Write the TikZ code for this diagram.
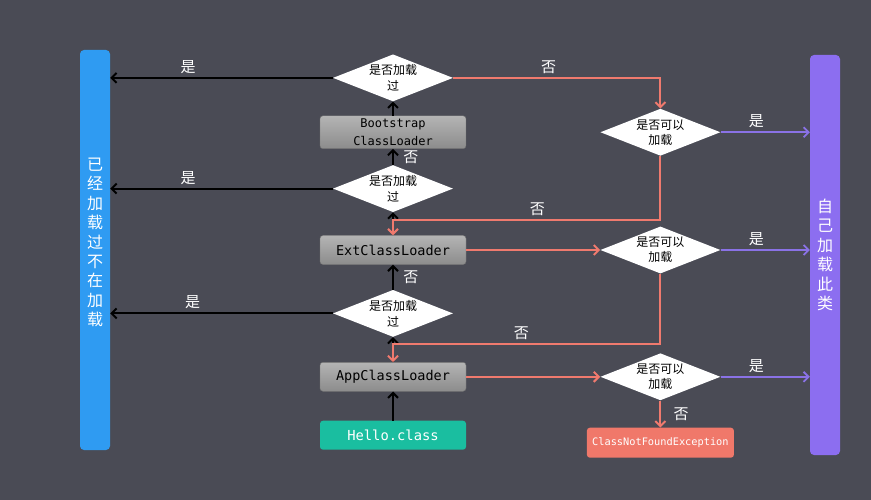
\documentclass[tikz,border=0pt]{standalone}
\usepackage{fontspec}
\setmonofont{DejaVu Sans Mono}
\newfontfamily\cjk{Noto Sans CJK SC}
\usepackage{xcolor}
\usepackage{tikz}
\usetikzlibrary{arrows.meta,positioning,shapes.geometric}

\definecolor{bgcol}{HTML}{4A4B55}
\definecolor{loadedblue}{HTML}{2F9BF2}
\definecolor{selfpurple}{HTML}{8C6EF0}
\definecolor{hellogreen}{HTML}{1ABEA0}
\definecolor{nfred}{HTML}{F0786A}
\definecolor{nored}{HTML}{F07A6E}
\definecolor{yespurple}{HTML}{8A72E6}
\definecolor{boxtop}{HTML}{B4B4B4}
\definecolor{boxbot}{HTML}{8C8C8C}

\begin{document}
\begin{tikzpicture}[x=1pt, y=-1pt,
    card/.style={rounded corners=3pt, minimum width=146pt, minimum height=29pt, inner sep=3pt, align=center, font=\ttfamily\fontsize{13.5}{18}\selectfont},
    loader/.style={card, draw=black!55, top color=boxtop, bottom color=boxbot},
    check/.style={diamond, fill=white, aspect=2.55, minimum width=120pt, minimum height=47pt, inner sep=0pt, align=center, font=\cjk\fontsize{12}{16}\selectfont},
    bar/.style={rounded corners=4pt, minimum width=30pt, minimum height=400pt, align=center, text=white, font=\cjk\fontsize{16}{19.4}\selectfont},
    note/.style={text=white, font=\cjk\fontsize{15}{15}\selectfont},
    climb/.style={draw=black, line width=2pt, -{Straight Barb[length=5pt,width=10pt]}},
    miss/.style={draw=nored, line width=2pt, -{Straight Barb[length=5pt,width=10pt]}},
    own/.style={draw=yespurple, line width=1.8pt, -{Straight Barb[length=5pt,width=10pt]}}
  ]
    \fill[bgcol] (0,0) rectangle (871,500);

    \node[bar, fill=loadedblue] (loaded) at (95,250) {已\\经\\加\\载\\过\\不\\在\\加\\载\\[-3pt]\mbox{}};
    \node[bar, fill=selfpurple] (self) at (825,255) {自\\己\\加\\载\\此\\类};

    \node[loader] (ext) at (393,250) {ExtClassLoader};
    \node[check, above=23pt of ext] (chkext) {是否加载\\过};
    \node[loader, above=16pt of chkext, font=\ttfamily\fontsize{12}{18}\selectfont] (boot) {Bootstrap\\ClassLoader};
    \node[check, above=14pt of boot] (chkboot) {是否加载\\过};
    \node[check, below=25pt of ext] (chkapp) {是否加载\\过};
    \node[loader, below=25pt of chkapp] (app) {AppClassLoader};
    \node[card, fill=hellogreen, text=white, below=29pt of app, font=\ttfamily\fontsize{13.8}{18}\selectfont] (hello) {Hello.class};

    \node[check, right=134pt of boot, font=\cjk\fontsize{12}{15}\selectfont] (loadboot) {是否可以\\加载};
    \node[check, right=134pt of ext, font=\cjk\fontsize{12}{15}\selectfont] (loadext) {是否可以\\加载};
    \node[check, right=134pt of app, font=\cjk\fontsize{12}{15}\selectfont] (loadapp) {是否可以\\加载};
    \node[card, fill=nfred, text=white, minimum width=147pt, minimum height=30pt, below=27pt of loadapp, font=\ttfamily\fontsize{10.3}{12}\selectfont] (cnfe) {ClassNotFoundException};

    \coordinate[below=8pt of chkext.south] (extjoin);
    \coordinate[below=7pt of chkapp.south] (appjoin);

    % delegate upwards
    \draw[climb] (hello) -- (app);
    \draw[climb] (app) -- (chkapp);
    \draw[climb] (chkapp) -- node[right=6pt, note]{否} (ext);
    \draw[climb] (ext) -- (chkext);
    \draw[climb] (chkext) -- node[right=6pt, note]{否} (boot);
    \draw[climb] (boot) -- (chkboot);

    % already loaded
    \draw[climb] (chkboot) -- node[pos=.65, above, note]{是} (chkboot -| loaded.east);
    \draw[climb] (chkext) -- node[pos=.65, above, note]{是} (chkext -| loaded.east);
    \draw[climb] (chkapp) -- node[pos=.63, above, note]{是} (chkapp -| loaded.east);

    % try to load, top down
    \draw[miss] (chkboot) -| node[pos=.23, above, note]{否} (loadboot);
    \draw[miss] (loadboot) |- node[pos=.73, above, note]{否} (extjoin) -- (ext);
    \draw[miss] (ext) -- (loadext);
    \draw[miss] (loadext) |- node[pos=.76, above, note]{否} (appjoin) -- (app);
    \draw[miss] (app) -- (loadapp);
    \draw[miss] (loadapp) -- node[right=9pt, note]{否} (cnfe);

    \draw[own] (loadboot) -- node[pos=.4, above, note]{是} (loadboot -| self.west);
    \draw[own] (loadext) -- node[pos=.4, above, note]{是} (loadext -| self.west);
    \draw[own] (loadapp) -- node[pos=.4, above, note]{是} (loadapp -| self.west);
  \end{tikzpicture}
\end{document}
